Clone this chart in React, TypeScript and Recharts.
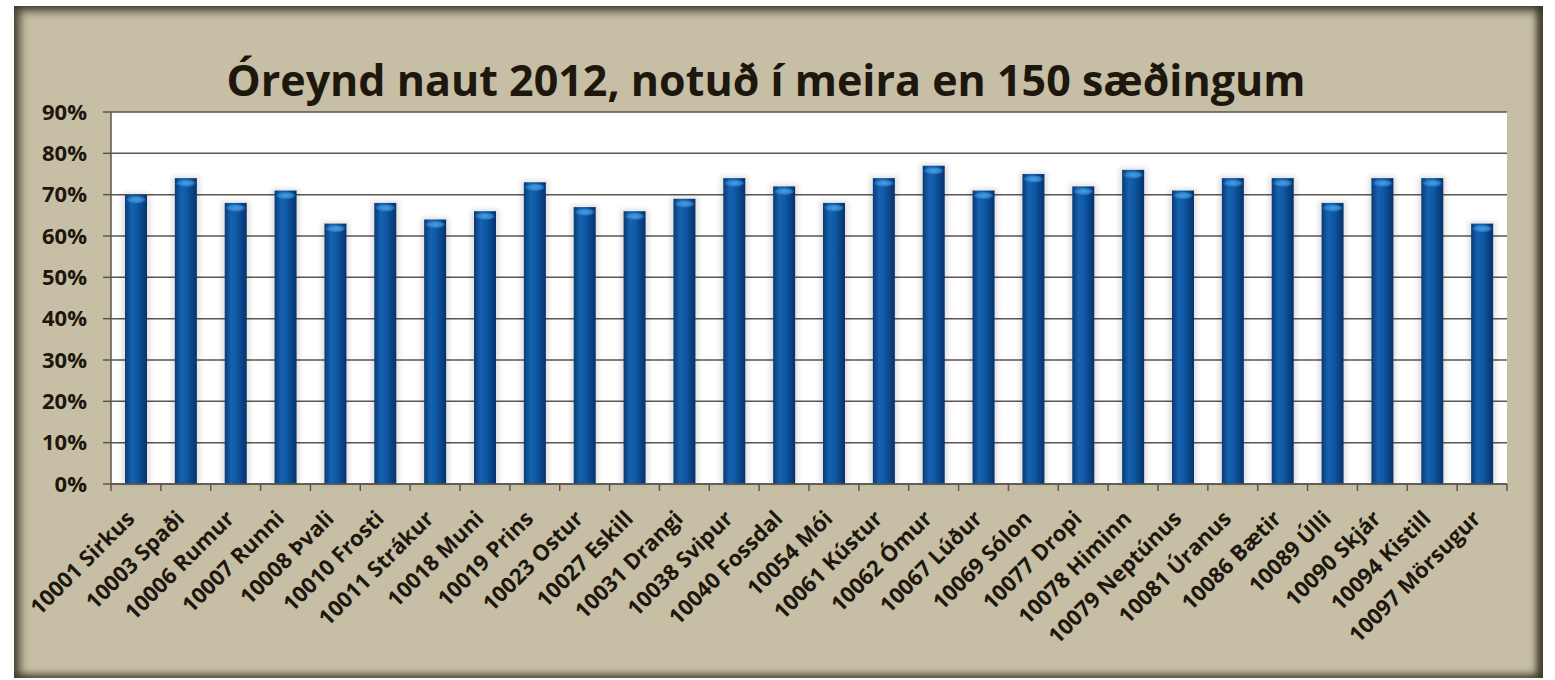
import React from "react";
import { BarChart, Bar, XAxis, YAxis, CartesianGrid } from "recharts";

const bulls = [
  "10001 Sirkus", "10003 Spaði", "10006 Rumur", "10007 Runni", "10008 Þvali",
  "10010 Frosti", "10011 Strákur", "10018 Muni", "10019 Prins", "10023 Ostur",
  "10027 Eskill", "10031 Drangi", "10038 Svipur", "10040 Fossdal", "10054 Mói",
  "10061 Kústur", "10062 Ómur", "10067 Lúður", "10069 Sólon", "10077 Dropi",
  "10078 Himinn", "10079 Neptúnus", "10081 Úranus", "10086 Bætir", "10089 Úlli",
  "10090 Skjár", "10094 Kistill", "10097 Mörsugur",
];

const rates = [
  0.70, 0.74, 0.68, 0.71, 0.63, 0.68, 0.64, 0.66, 0.73, 0.67,
  0.66, 0.69, 0.74, 0.72, 0.68, 0.74, 0.77, 0.71, 0.75, 0.72,
  0.76, 0.71, 0.74, 0.74, 0.68, 0.74, 0.74, 0.63,
];

const yTicks = [0, 0.1, 0.2, 0.3, 0.4, 0.5, 0.6, 0.7, 0.8, 0.9];

const title = "Óreynd naut 2012, notuð í meira en 150 sæðingum";

const data = bulls.map((name, i) => ({ name, rate: rates[i] }));

const W = 1555;
const H = 680;
const PLOT_LEFT = 111;
const PLOT_RIGHT = 1507;
const STEP = (PLOT_RIGHT - PLOT_LEFT) / bulls.length;
const FONT = "'Open Sans', sans-serif";
const INK = "#1e170d";
const LINE = "#5b574f";

const BarShape = (props: any) => {
  const { x, y, width, height } = props;
  if (!height || height <= 0) return null;
  return (
    <g>
      <rect x={x - 3} y={y - 2} width={width + 6} height={height + 2} fill="#000" opacity={0.12} filter="url(#barShadow)" />
      <rect x={x} y={y} width={width} height={height} fill="url(#barBody)" />
      <ellipse cx={x + width / 2} cy={y + 5} rx={width / 2 - 1} ry={4} fill="url(#barCap)" />
    </g>
  );
};

const XTick = (props: any) => {
  const { x, y, payload, index } = props;
  const tx = x;
  const ty = y + 36;
  return (
    <g>
      <line x1={x - STEP / 2} y1={y} x2={x - STEP / 2} y2={y + 7} stroke={LINE} strokeWidth={1.5} />
      {index === bulls.length - 1 && (
        <line x1={x + STEP / 2} y1={y} x2={x + STEP / 2} y2={y + 7} stroke={LINE} strokeWidth={1.5} />
      )}
      <text
        x={tx}
        y={ty}
        textAnchor="end"
        transform={`rotate(-45, ${tx}, ${ty})`}
        fontFamily={FONT}
        fontWeight={700}
        fontSize={22}
        fill={INK}
      >
        {payload.value}
      </text>
    </g>
  );
};

export default function App() {
  return (
    <div style={{ position: "absolute", left: 0, top: 0, width: W, height: H, background: "#fff" }}>
      <div
        style={{
          position: "absolute",
          left: 14,
          top: 6,
          width: 1529,
          height: 672,
          background: "#c6bfa5",
          boxShadow:
            "inset 6px 5px 10px rgba(55,50,38,0.85), inset -7px 0 6px rgba(55,50,38,0.85), inset 0 -5px 6px rgba(55,50,38,0.55)",
        }}
      />
      <div
        style={{
          position: "absolute",
          left: 0,
          width: 1532,
          top: 51,
          textAlign: "center",
          fontFamily: FONT,
          fontWeight: 700,
          fontSize: 43,
          lineHeight: "58px",
          color: INK,
          whiteSpace: "nowrap",
        }}
      >
        {title}
      </div>
      <div style={{ position: "absolute", left: 0, top: 0 }}>
        <BarChart width={W} height={H} data={data} margin={{ top: 112, right: W - PLOT_RIGHT, bottom: 46, left: PLOT_LEFT - 90 }} barSize={22}>
          <defs>
            <linearGradient id="barBody" x1="0" y1="0" x2="1" y2="0">
              <stop offset="0%" stopColor="#0a3a74" />
              <stop offset="30%" stopColor="#1662b0" />
              <stop offset="55%" stopColor="#0e58a4" />
              <stop offset="100%" stopColor="#07316a" />
            </linearGradient>
            <radialGradient id="barCap" cx="0.5" cy="0.5" r="0.5">
              <stop offset="0%" stopColor="#4c9ee0" />
              <stop offset="70%" stopColor="#2c80cc" />
              <stop offset="100%" stopColor="#1662b0" stopOpacity={0.4} />
            </radialGradient>
            <filter id="barShadow" x="-50%" y="-10%" width="200%" height="120%">
              <feGaussianBlur stdDeviation="2.5" />
            </filter>
          </defs>
          <CartesianGrid vertical={false} stroke={LINE} strokeWidth={1.5} fill="#ffffff" fillOpacity={1} />
          <XAxis
            dataKey="name"
            interval={0}
            height={150}
            axisLine={{ stroke: LINE, strokeWidth: 1.5 }}
            tickLine={false}
            tickSize={0}
            tickMargin={0}
            tick={<XTick />}
          />
          <YAxis
            width={90}
            domain={[0, 0.9]}
            ticks={yTicks}
            interval={0}
            tickFormatter={(v: number) => `${Math.round(v * 100)}%`}
            axisLine={{ stroke: LINE, strokeWidth: 1.5 }}
            tickLine={{ stroke: LINE, strokeWidth: 1.5 }}
            tickSize={8}
            tickMargin={16}
            tick={{ fontFamily: FONT, fontWeight: 700, fontSize: 22, fill: INK }}
          />
          <Bar dataKey="rate" shape={<BarShape />} isAnimationActive={false} />
        </BarChart>
      </div>
    </div>
  );
}
